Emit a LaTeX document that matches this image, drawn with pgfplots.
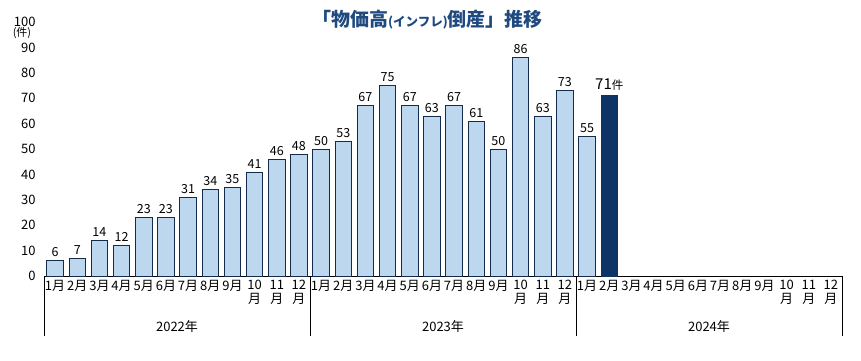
\documentclass[border=0pt]{standalone}
\usepackage{pgfplots}
\pgfplotsset{compat=1.18}
\usepackage{fontspec}
\setmainfont{Noto Sans CJK JP}
\definecolor{barfill}{HTML}{BDD7EE}
\definecolor{barline}{HTML}{142B4D}
\definecolor{darkbar}{HTML}{0E3367}
\definecolor{titlec}{HTML}{1F4A7F}
\begin{document}
\begin{tikzpicture}
\useasboundingbox (-44pt,-84pt) rectangle (817pt,276pt);
\begin{axis}[
 at={(0pt,0pt)}, anchor=south west,
 scale only axis, width=798pt, height=254pt,
 xmin=-0.5, xmax=35.5, ymin=0, ymax=100,
 axis x line=bottom, axis y line=left,
 axis line style={-},
 y axis line style={draw=none},
 x axis line style={black, line width=0.8pt},
 ytick={0,10,...,100}, major tick length=0pt,
 xtick={0,...,35},
 xticklabels={1月,2月,3月,4月,5月,6月,7月,8月,9月,{10\\月},{11\\月},{12\\月},
              1月,2月,3月,4月,5月,6月,7月,8月,9月,{10\\月},{11\\月},{12\\月},
              1月,2月,3月,4月,5月,6月,7月,8月,9月,{10\\月},{11\\月},{12\\月}},
 xticklabel style={align=center, anchor=north, font=\fontsize{13}{14}\selectfont, yshift=-1pt},
 yticklabel style={font=\fontsize{13}{14}\selectfont, xshift=-5pt},
 /pgf/number format/assume math mode=true,
 extra x ticks={-0.5,11.5,23.5,35.5}, extra x tick labels={},
 extra x tick style={major tick length=60pt, tick align=outside, tick style={black, line width=0.8pt}},
 ybar, bar width=16.5pt, bar shift=0pt,
 clip=false,
 nodes near coords,
 nodes near coords style={font=\fontsize{12.5}{13}\selectfont, color=black},
]
\addplot[fill=barfill, draw=barline, line width=0.7pt] coordinates {
 (0,6)(1,7)(2,14)(3,12)(4,23)(5,23)(6,31)(7,34)(8,35)(9,41)(10,46)(11,48)
 (12,50)(13,53)(14,67)(15,75)(16,67)(17,63)(18,67)(19,61)(20,50)(21,86)(22,63)(23,73)
 (24,55)};
\addplot[fill=darkbar, draw=darkbar, line width=0.7pt, point meta=explicit symbolic,
 nodes near coords style={font=\fontsize{15}{15}\selectfont, yshift=2pt}] coordinates {
 (25,71) [71{\fontsize{11.5}{11}\selectfont 件}]};
\node[font=\fontsize{11}{12}\selectfont] at (axis cs:-0.5,100) [xshift=-22pt, yshift=-11pt] {(件)};
\node[font=\fontsize{13}{14}\selectfont] at (axis cs:5.5,0) [yshift=-51pt] {2022年};
\node[font=\fontsize{13}{14}\selectfont] at (axis cs:17.5,0) [yshift=-51pt] {2023年};
\node[font=\fontsize{13}{14}\selectfont] at (axis cs:29.5,0) [yshift=-51pt] {2024年};
\node[text=titlec, font=\bfseries\fontsize{19}{20}\selectfont] at (axis cs:16.8,100) [yshift=2pt]
 {「物価高{\fontsize{12.5}{14}\selectfont(インフレ)}倒産」推移};
\end{axis}
\end{tikzpicture}
\end{document}
